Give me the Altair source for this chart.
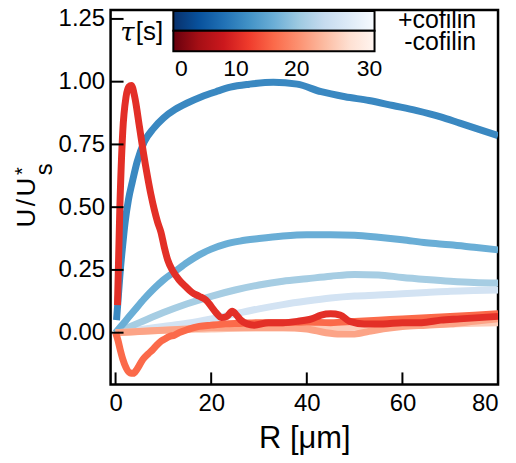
import altair as alt
import pandas as pd

# ---------------- data ----------------
# +cofilin curves (blue), darkest first
b1_R = [0.2, 0.6, 1.0, 1.5, 2.0, 2.7, 3.5, 4.5, 6, 8, 10, 12.5, 15, 18, 21, 24, 28, 33, 38, 43, 48, 53, 58, 63, 68, 72, 76, 80]
b1_U = [0.05, 0.15, 0.25, 0.35, 0.44, 0.53, 0.60, 0.68, 0.76, 0.815, 0.855, 0.89, 0.915, 0.94, 0.96, 0.978, 0.99, 0.998, 0.99, 0.96, 0.94, 0.925, 0.905, 0.885, 0.86, 0.835, 0.81, 0.785]

b2_R = [0, 2, 4, 6, 8, 10, 12.5, 15, 17.5, 20, 23, 26, 30, 35, 40, 45, 50, 55, 60, 65, 70, 75, 80]
b2_U = [0, 0.045, 0.09, 0.135, 0.175, 0.21, 0.245, 0.28, 0.31, 0.333, 0.353, 0.365, 0.375, 0.385, 0.39, 0.39, 0.388, 0.38, 0.37, 0.358, 0.35, 0.34, 0.33]

b3_R = [0, 5, 10, 15, 20, 25, 30, 35, 40, 45, 50, 55, 60, 65, 70, 75, 80]
b3_U = [0, 0.04, 0.08, 0.115, 0.145, 0.17, 0.19, 0.205, 0.215, 0.225, 0.232, 0.23, 0.22, 0.212, 0.205, 0.2, 0.198]

b4_R = [0, 5, 10, 15, 20, 25, 30, 35, 40, 45, 50, 55, 60, 65, 70, 75, 80]
b4_U = [0, 0.012, 0.025, 0.038, 0.055, 0.075, 0.095, 0.112, 0.126, 0.138, 0.146, 0.15, 0.155, 0.16, 0.165, 0.168, 0.17]

# -cofilin curves (red), darkest first
r1_R = [0.4, 0.9, 1.5, 2.2, 2.8, 3.3, 4.0, 5.0, 5.8, 6.7, 7.4, 8.1, 8.8, 9.5, 10.2, 10.9, 12.0, 13.3, 14.6, 16.0, 17.5, 18.9, 20.0, 21.0, 22.2, 23.3, 24.4, 25.3, 26.2, 27.5, 29, 32, 35, 38, 41, 43, 45, 47, 49, 52, 56, 60, 64, 68, 72, 76, 80]
r1_U = [0.11, 0.50, 0.80, 0.94, 0.98, 0.985, 0.94, 0.82, 0.72, 0.62, 0.55, 0.49, 0.44, 0.40, 0.34, 0.29, 0.245, 0.21, 0.185, 0.16, 0.145, 0.13, 0.105, 0.08, 0.06, 0.065, 0.085, 0.07, 0.05, 0.035, 0.03, 0.04, 0.04, 0.045, 0.055, 0.07, 0.075, 0.07, 0.045, 0.035, 0.035, 0.04, 0.04, 0.05, 0.055, 0.06, 0.065]

r2_R = [0, 0.5, 1.0, 1.5, 2.2, 3.0, 3.7, 4.5, 5.7, 6.8, 7.8, 8.6, 9.5, 10.3, 11.25, 12.3, 13.3, 15, 17.5, 20, 23, 26, 30, 35, 40, 45, 50, 55, 60, 65, 70, 75, 80]
r2_U = [0, -0.03, -0.07, -0.105, -0.14, -0.16, -0.162, -0.145, -0.107, -0.085, -0.067, -0.05, -0.034, -0.025, -0.015, -0.01, 0.0, 0.012, 0.025, 0.03, 0.035, 0.037, 0.04, 0.04, 0.042, 0.04, 0.045, 0.05, 0.055, 0.06, 0.065, 0.07, 0.075]

r3_R = [0, 5, 10, 15, 20, 25, 30, 35, 40, 44, 47, 50, 53, 56, 60, 65, 70, 75, 80]
r3_U = [0, 0.005, 0.01, 0.015, 0.02, 0.02, 0.02, 0.02, 0.015, 0.0, -0.005, -0.005, 0.005, 0.015, 0.025, 0.03, 0.035, 0.045, 0.055]

r4_R = [0, 10, 20, 30, 40, 50, 60, 70, 80]
r4_U = [0, 0.01, 0.015, 0.02, 0.02, 0.025, 0.03, 0.035, 0.04]

series_colors = ["#d3e3f3", "#a6cde3", "#6aaed6", "#3a88c1",
                 "#fdcdb9", "#fca487", "#fb6a4a", "#e32f27"]
series_data = [(b4_R, b4_U), (b3_R, b3_U), (b2_R, b2_U), (b1_R, b1_U),
               (r4_R, r4_U), (r3_R, r3_U), (r2_R, r2_U), (r1_R, r1_U)]

x_ticks = [0, 20, 40, 60, 80]
y_ticks = [0.0, 0.25, 0.5, 0.75, 1.0, 1.25]

# colorbar
blues_stops = ["#08306b", "#08519c", "#2171b5", "#4292c6", "#6baed6", "#9ecae1", "#c6dbef", "#deebf7", "#f7fbff"]
reds_stops = ["#67000d", "#a50f15", "#cb181d", "#ef3b2c", "#fb6a4a", "#fc9272", "#fcbba1", "#fee0d2", "#fff5f0"]
cbar_labels = ["0", "10", "20", "30"]
cbar_label_x = [71, 126, 187, 260]

FONT = "Liberation Sans"
W, H = 389, 376

xs = alt.Scale(domain=[-1.04, 80], nice=False, zero=False)
ys = alt.Scale(domain=[-0.206, 1.286], nice=False, zero=False)
X = alt.X("R:Q", scale=xs,
          axis=alt.Axis(values=x_ticks, tickSize=0, domain=False, grid=False,
                        labelFontSize=24, labelPadding=7, labelColor="black",
                        title="R [μm]", titleFontSize=31, titleFontWeight="normal",
                        titlePadding=8, titleColor="black"))
Y = alt.Y("U:Q", scale=ys,
          axis=alt.Axis(values=y_ticks, format=".2f", tickSize=0, domain=False, grid=False,
                        labelFontSize=24, labelPadding=6, labelColor="black", title=None))

layers = []
for (rr, uu), col in zip(series_data, series_colors):
    df = pd.DataFrame({"R": rr, "U": uu})
    layers.append(
        alt.Chart(df).mark_line(color=col, strokeWidth=7, strokeCap="butt",
                                interpolate="monotone", clip=True)
        .encode(x=X, y=Y)
    )

# inward ticks
layers.append(
    alt.Chart(pd.DataFrame({"R": x_ticks})).mark_rule(color="black", strokeWidth=2)
    .encode(x=X, y=alt.value(H), y2=alt.value(H - 12))
)
layers.append(
    alt.Chart(pd.DataFrame({"U": y_ticks})).mark_rule(color="black", strokeWidth=2)
    .encode(y=Y, x=alt.value(0), x2=alt.value(13))
)

one = pd.DataFrame({"a": [0]})

def grad(colors):
    n = len(colors) - 1
    return alt.Gradient(gradient="linear", x1=0, x2=1, y1=0, y2=0,
                        stops=[alt.GradientStop(color=c, offset=i / n) for i, c in enumerate(colors)])

layers.append(
    alt.Chart(one).mark_rect(fill=grad(blues_stops), stroke="black", strokeWidth=2)
    .encode(x=alt.value(63), x2=alt.value(265), y=alt.value(1), y2=alt.value(21))
)
layers.append(
    alt.Chart(one).mark_rect(fill=grad(reds_stops), stroke="black", strokeWidth=2)
    .encode(x=alt.value(63), x2=alt.value(265), y=alt.value(21), y2=alt.value(41.5))
)
for lab, xp in zip(cbar_labels, cbar_label_x):
    layers.append(
        alt.Chart(one).mark_text(text=lab, font=FONT, fontSize=23, align="center",
                                 baseline="middle", color="black")
        .encode(x=alt.value(xp), y=alt.value(59))
    )

def txt(t, x, y, size, align="center", baseline="middle", font=FONT, style="normal", angle=0):
    kw = dict(text=t, font=font, fontSize=size, align=align, baseline=baseline,
              color="black", fontStyle=style)
    if angle:
        kw["angle"] = angle
    return alt.Chart(one).mark_text(**kw).encode(x=alt.value(x), y=alt.value(y))

layers.append(txt("+cofilin", 367, 18.5, 25, align="right", baseline="alphabetic"))
layers.append(txt("-cofilin", 367, 40.5, 25, align="right", baseline="alphabetic"))
layers.append(txt("τ", 17, 23, 26, font="DejaVu Serif", style="italic"))
layers.append(txt("[s]", 39, 22, 26))

# y-axis title U/U*_s (glyphs placed individually, rotated)
layers.append(txt("U", -76, 209, 26, baseline="alphabetic", angle=270))
layers.append(txt("/", -76, 193.5, 26, baseline="alphabetic", angle=270))
layers.append(txt("U", -76, 178, 26, baseline="alphabetic", angle=270))
layers.append(txt("*", -88, 162, 20, angle=270))
layers.append(txt("s", -66, 160, 24, angle=270))

chart = alt.layer(*layers).properties(
    width=W, height=H,
    autosize=alt.AutoSizeParams(type="none"),
    padding={"left": 103, "top": 1, "right": 10, "bottom": 70},
).configure_view(stroke="black", strokeWidth=2.5).configure_axis(labelFont=FONT, titleFont=FONT)

chart.save("out.html", embed_options={"renderer": "svg", "actions": False})
